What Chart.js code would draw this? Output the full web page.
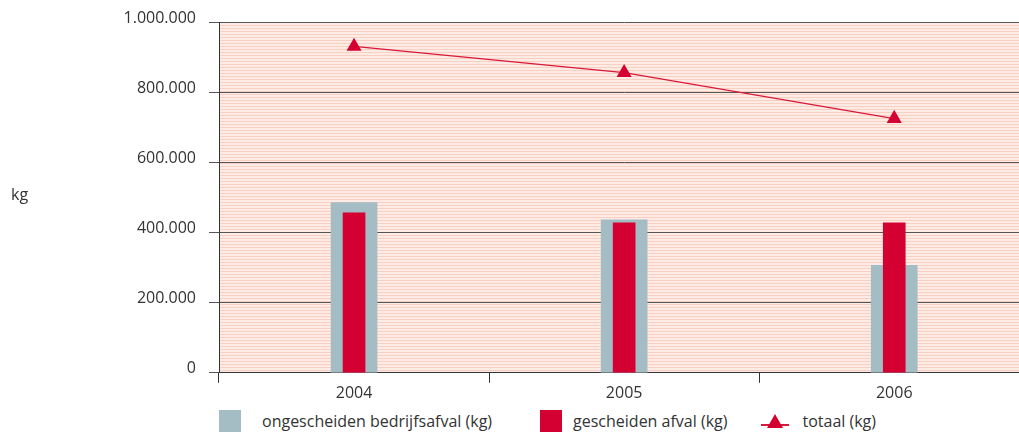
<!DOCTYPE html>
<html>
<head>
<meta charset="utf-8">
<script src="https://cdn.jsdelivr.net/npm/chart.js@4/dist/chart.umd.min.js"></script>
<style>
    html, body { margin: 0; padding: 0; background: #ffffff; overflow: hidden; }
    #wrap { position: relative; width: 1019px; height: 433px; overflow: hidden; font-family: 'Open Sans', sans-serif; color: #333333; }
    #chartBox { position: absolute; left: 0; top: 0; width: 1038px; height: 404px; }
    #ylabel { position: absolute; left: 11px; top: 183px; font-size: 16px; }
    #legend { position: absolute; left: 219px; top: 410px; display: flex; align-items: center; font-size: 16px; line-height: 22px; }
    .item { display: flex; align-items: center; }
    .swatch { width: 22px; height: 22px; margin-right: 21px; }
    .tri { position: relative; width: 28px; height: 22px; margin-right: 13px; }
    .tri .ln { position: absolute; left: 0; right: 0; top: 14px; height: 1.5px; background: #d8193a; }
    .tri .hd { position: absolute; left: 6px; top: 4px; width: 0; height: 0;
               border-left: 8px solid transparent; border-right: 8px solid transparent; border-bottom: 14px solid #d50032; }
</style>
</head>
<body>
<div id="wrap">
    <div id="chartBox"><canvas id="afvalChart"></canvas></div>
    <div id="ylabel">kg</div>
    <div id="legend">
        <div class="item" style="margin-right: 48px;"><span class="swatch" style="background:#a4bcc3;"></span><span>ongescheiden bedrijfsafval (kg)</span></div>
        <div class="item" style="margin-right: 34px;"><span class="swatch" style="background:#d50032; margin-right: 11px;"></span><span>gescheiden afval (kg)</span></div>
        <div class="item"><span class="tri"><span class="ln"></span><span class="hd"></span></span><span>totaal (kg)</span></div>
    </div>
</div>
<script>
// Data
const years = ['2004', '2005', '2006'];
const ongescheiden = [486000, 437000, 307000];
const gescheiden = [457000, 428000, 428000];
const totaal = [932000, 857000, 726000];

// Striped background behind the plot area
const stripeBackground = {
    id: 'stripeBackground',
    beforeDraw(chart) {
        const { ctx, chartArea } = chart;
        const tile = document.createElement('canvas');
        tile.width = 4;
        tile.height = 3;
        const t = tile.getContext('2d');
        t.fillStyle = '#fdebe6';
        t.fillRect(0, 0, 4, 3);
        t.fillStyle = '#f8cfc1';
        t.fillRect(0, 1, 4, 1);
        ctx.save();
        ctx.fillStyle = ctx.createPattern(tile, 'repeat');
        ctx.fillRect(chartArea.left, chartArea.top, chartArea.right - chartArea.left, chartArea.bottom - chartArea.top);
        ctx.restore();
    }
};

function formatKg(value) {
    return String(value).replace(/\B(?=(\d{3})+(?!\d))/g, '.');
}

function initAfvalChart() {
    const ctx = document.getElementById('afvalChart');
    if (!ctx) return;

    const data = {
        labels: years,
        datasets: [
            {
                type: 'line',
                label: 'totaal (kg)',
                data: totaal,
                borderColor: '#d8193a',
                borderWidth: 1.3,
                backgroundColor: '#d50032',
                pointStyle: 'triangle',
                pointRadius: 8.7,
                pointBorderWidth: 0,
                pointBackgroundColor: '#d50032',
                tension: 0,
                order: 0
            },
            {
                type: 'bar',
                label: 'gescheiden afval (kg)',
                data: gescheiden,
                backgroundColor: '#d50032',
                barThickness: 22,
                grouped: false,
                order: 1
            },
            {
                type: 'bar',
                label: 'ongescheiden bedrijfsafval (kg)',
                data: ongescheiden,
                backgroundColor: '#a4bcc3',
                barThickness: 46,
                grouped: false,
                order: 2
            }
        ]
    };

    const config = {
        data: data,
        plugins: [stripeBackground],
        options: {
            responsive: true,
            maintainAspectRatio: false,
            animation: false,
            layout: {
                padding: { top: 15, right: 3, bottom: 0, left: 0 }
            },
            plugins: {
                legend: { display: false },
                tooltip: { enabled: false }
            },
            scales: {
                x: {
                    offset: true,
                    grid: {
                        offset: true,
                        drawOnChartArea: false,
                        color: '#333333',
                        tickLength: 10
                    },
                    border: { color: '#333333', width: 1 },
                    ticks: {
                        color: '#333333',
                        font: { family: 'Open Sans', size: 16 },
                        padding: 1
                    }
                },
                y: {
                    min: 0,
                    max: 1000000,
                    grid: {
                        color: '#555555',
                        tickLength: 10
                    },
                    border: { color: '#333333', width: 1 },
                    ticks: {
                        stepSize: 200000,
                        color: '#333333',
                        font: { family: 'Open Sans', size: 16 },
                        padding: 13,
                        labelOffset: -4,
                        callback: value => formatKg(value)
                    },
                    afterFit: scale => { scale.width = 219; }
                }
            }
        }
    };

    new Chart(ctx, config);
}

initAfvalChart();
</script>
</body>
</html>
